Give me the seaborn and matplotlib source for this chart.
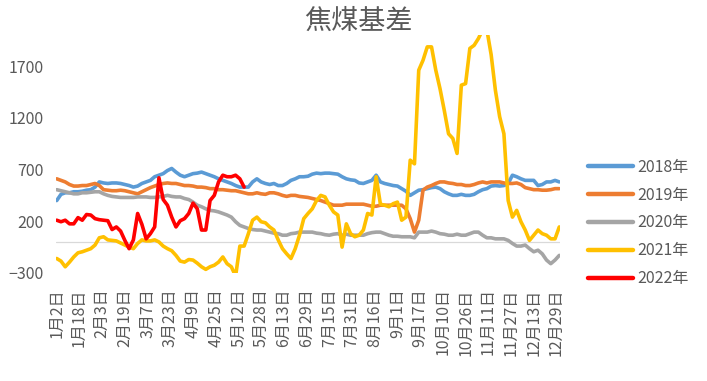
import numpy as np
import pandas as pd
import seaborn as sns
import matplotlib
matplotlib.use('Agg')
import matplotlib.pyplot as plt

sns.set_style('white')
plt.rcParams['font.family'] = ['Noto Sans CJK SC', 'DejaVu Sans']

# category axis: trading calendar days (holidays removed)
holidays = ['2019-04-05', '2019-05-01', '2019-10-01', '2019-10-02', '2019-10-03',
            '2019-10-04', '2019-10-05', '2019-10-06', '2019-10-07']
days = pd.date_range('2019-01-02', '2019-12-31')
days = days[~days.isin(pd.to_datetime(holidays))]
day_labels = [f"{d.month}月{d.day}日" for d in days]
step = 3  # values read every 3rd category
label_every = 16

years = ['2018年', '2019年', '2020年', '2021年', '2022年']
colors = ['#5B9BD5', '#ED7D31', '#A5A5A5', '#FFC000', '#FF0000']

y2018 = [400,460,475,475,485,485,490,500,505,530,
         580,570,565,570,570,565,555,545,530,540,
         565,580,595,630,645,660,690,710,675,645,
         630,645,660,665,675,660,645,630,610,595,
         580,565,545,530,530,530,580,610,580,565,
         555,565,545,545,565,595,610,630,630,635,
         655,665,660,665,665,660,655,630,610,600,
         595,570,565,580,595,645,580,565,555,545,
         540,515,490,450,475,500,505,515,525,530,
         515,485,465,450,450,460,450,450,460,485,
         505,515,540,545,540,545,565,645,630,610,
         595,595,595,545,555,580,580,595,580]
y2019 = [610,595,580,555,540,540,545,545,555,565,
         545,505,500,495,495,500,495,485,475,465,
         485,505,525,540,555,565,570,565,565,555,
         545,545,540,530,530,525,515,515,505,505,
         500,495,495,485,475,465,465,475,465,460,
         475,475,465,450,440,450,450,440,435,430,
         420,410,400,385,370,355,355,355,365,365,
         365,365,365,355,345,345,355,355,355,355,
         355,355,320,225,95,210,500,530,545,565,
         580,580,570,565,555,555,545,545,555,570,
         580,570,580,580,580,570,565,565,570,555,
         525,515,505,505,500,500,505,515,515]
y2020 = [505,495,485,475,465,465,475,475,480,485,
         485,465,450,440,435,430,430,430,430,435,
         435,435,430,430,435,440,450,440,435,435,
         420,410,385,355,340,320,305,300,290,275,
         260,240,195,160,145,130,120,115,115,105,
         95,85,80,65,65,80,85,95,95,95,
         95,85,80,70,65,75,80,65,75,65,
         65,65,65,80,90,95,95,80,65,55,
         55,50,50,50,40,95,95,95,105,95,
         80,75,65,65,75,65,65,80,95,95,
         65,40,40,30,30,30,15,-15,-40,-40,
         -30,-65,-95,-80,-115,-175,-210,-175,-130]
y2021 = [-160,-185,-240,-195,-145,-105,-95,-80,-65,-30,
         40,50,20,15,10,-10,-30,-50,-65,-15,
         20,10,10,20,0,-40,-65,-85,-130,-185,
         -195,-170,-175,-205,-240,-265,-240,-225,-195,-145,
         -210,-240,-330,-40,-40,80,210,240,195,185,
         145,115,20,-65,-115,-160,-65,65,225,275,
         320,400,450,435,355,290,260,-50,175,80,
         50,65,115,275,260,630,365,355,340,370,
         385,210,240,790,755,1660,1755,1885,1885,1660,
         1480,1270,1045,1000,855,1515,1530,1870,1900,1965,
         2050,2050,1810,1465,1210,1045,400,240,305,195,
         115,15,65,115,80,65,30,30,145]
y2022 = [210,195,210,175,175,235,210,265,260,225,
         215,210,205,120,145,105,15,-65,20,275,
         170,30,80,145,620,410,355,240,145,205,
         225,275,375,320,115,115,400,450,580,645,
         630,630,645,610,530]

series = [y2018, y2019, y2020, y2021, y2022]
frames = []
for yr, vals in zip(years, series):
    pos = np.arange(len(vals)) * step
    frames.append(pd.DataFrame({'pos': pos, 'date': [day_labels[p] for p in pos],
                                'value': vals, 'year': yr}))
df = pd.concat(frames, ignore_index=True)

fig = plt.figure(figsize=(7.07, 3.81), dpi=100)
ax = fig.add_axes([56/707, 0.2835, 504/707, 0.6247])

ax.axhline(0, color='#D9D9D9', lw=0.9, zorder=0)
sns.lineplot(data=df, x='pos', y='value', hue='year', hue_order=years,
             palette=colors, linewidth=2.6, ax=ax, estimator=None, sort=True)

ax.set_xlim(-0.5, len(day_labels) - 0.5)
ax.set_ylim(-300, 2000)
ax.set_yticks([-300, 200, 700, 1200, 1700])
tick_pos = list(range(0, len(day_labels), label_every))
ax.set_xticks(tick_pos)
ax.set_xticklabels([day_labels[p] for p in tick_pos], rotation=90, va='top')
ax.tick_params(axis='x', length=0, pad=11, labelsize=11.5, labelcolor='#595959')
ax.tick_params(axis='y', length=0, pad=9, labelsize=11.5, labelcolor='#595959')
ax.set_xlabel('')
ax.set_ylabel('')
for s in ax.spines.values():
    s.set_visible(False)

handles, labels = ax.get_legend_handles_labels()
ax.get_legend().remove()
for h in handles:
    h.set_linewidth(3.2)
fig.legend(handles, labels, loc='center left', bbox_to_anchor=(588/707, 1 - 223/381),
           frameon=False, fontsize=11.5, handlelength=2.8, handletextpad=0.3,
           labelspacing=0.68, borderpad=0, borderaxespad=0, labelcolor='#595959')

fig.text(0.507, 0.945, '焦煤基差', ha='center', va='center', fontsize=19.5, color='#595959')

fig.savefig('out.png', dpi=100)
